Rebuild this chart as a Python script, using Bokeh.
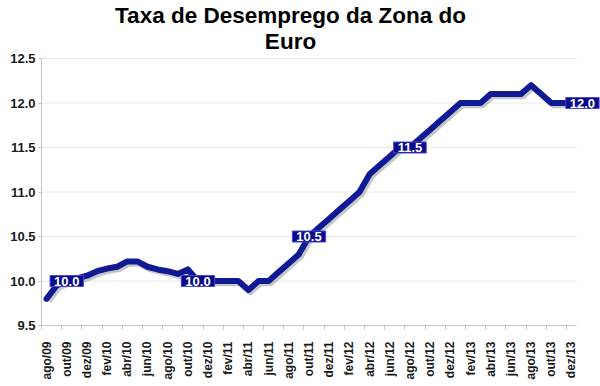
import math
from bokeh.plotting import figure
from bokeh.models import ColumnDataSource, Range1d, FixedTicker, Label
from bokeh.transform import dodge
from bokeh.embed import file_html
from bokeh.resources import INLINE

# ---- data -------------------------------------------------------------
months = [
    "ago/09", "set/09", "out/09", "nov/09", "dez/09",
    "jan/10", "fev/10", "mar/10", "abr/10", "mai/10", "jun/10",
    "jul/10", "ago/10", "set/10", "out/10", "nov/10", "dez/10",
    "jan/11", "fev/11", "mar/11", "abr/11", "mai/11", "jun/11",
    "jul/11", "ago/11", "set/11", "out/11", "nov/11", "dez/11",
    "jan/12", "fev/12", "mar/12", "abr/12", "mai/12", "jun/12",
    "jul/12", "ago/12", "set/12", "out/12", "nov/12", "dez/12",
    "jan/13", "fev/13", "mar/13", "abr/13", "mai/13", "jun/13",
    "jul/13", "ago/13", "set/13", "out/13", "nov/13", "dez/13",
]
rate = [
    9.80, 9.95, 10.0, 10.03, 10.06,
    10.11, 10.14, 10.16, 10.22, 10.22, 10.16,
    10.13, 10.11, 10.08, 10.13, 10.0, 10.0,
    10.0, 10.0, 10.0, 9.9, 10.0, 10.0,
    10.1, 10.2, 10.3, 10.5, 10.6, 10.7,
    10.8, 10.9, 11.0, 11.2, 11.3, 11.4,
    11.5, 11.5, 11.6, 11.7, 11.8, 11.9,
    12.0, 12.0, 12.0, 12.1, 12.1, 12.1,
    12.1, 12.2, 12.1, 12.0, 12.0, 12.0,
]
labeled_months = ["out/09", "nov/10", "out/11", "ago/12", "dez/13"]
y_ticks = [9.5, 10.0, 10.5, 11.0, 11.5, 12.0, 12.5]
title_lines = ["Taxa de Desemprego da Zona do", "Euro"]

# ---- layout constants (pixels) -----------------------------------------
FONT = "Liberation Sans"
LEFT = 41
FRAME_W, FRAME_H = 559, 325   # frame reaches the top so the title is drawn inside it
AXIS_PX = 535                 # pixel length of the category axis
PLOT_PX = 267                 # pixel height of the value axis (9.5 .. 12.5)

n = len(months)
xc = [i + 0.5 for i in range(n)]
src = ColumnDataSource(dict(x=xc, y=rate))

x_end = n * FRAME_W / AXIS_PX
y0, y1 = y_ticks[0], y_ticks[-1]
y_end = y0 + (y1 - y0) * FRAME_H / PLOT_PX

p = figure(frame_width=FRAME_W, frame_height=FRAME_H,
           x_range=Range1d(0, x_end), y_range=Range1d(y0, y_end),
           output_backend="svg", toolbar_location=None,
           min_border_left=LEFT, min_border_right=0,
           min_border_top=0, min_border_bottom=0)
p.title.visible = False
p.outline_line_color = None
p.background_fill_color = "white"
p.border_fill_color = "white"

# title, drawn inside the frame in screen units
for k, line in enumerate(title_lines):
    p.add_layout(Label(x=249, y=[310, 284.5][k], x_units="screen", y_units="screen",
                       text=line, text_align="center", text_baseline="alphabetic",
                       text_font=FONT, text_font_style="bold",
                       text_font_size="22.5px", text_color="black"))

# grid lines limited to the axis extent
p.xgrid.visible = False
p.ygrid.visible = False
p.segment(x0=0, x1=n, y0=y_ticks, y1=y_ticks, line_color="#e6e6e6", line_width=1)

# y axis
p.yaxis.bounds = (y0, y1)
p.yaxis.ticker = FixedTicker(ticks=y_ticks, minor_ticks=[])
p.yaxis.major_label_overrides = {t: f"{t:.1f}" for t in y_ticks}
p.yaxis.axis_line_color = "#c4c4c4"
p.yaxis.major_tick_line_color = "#c4c4c4"
p.yaxis.major_tick_out = 3
p.yaxis.major_tick_in = 0
p.yaxis.minor_tick_line_color = None
p.yaxis.major_label_standoff = 3
p.yaxis.major_label_text_font = FONT
p.yaxis.major_label_text_font_style = "bold"
p.yaxis.major_label_text_font_size = "13px"
p.yaxis.major_label_text_color = "#1a1a1a"

# x axis
lab_idx = list(range(0, n, 2))
p.xaxis.bounds = (0, n)
p.xaxis.ticker = FixedTicker(ticks=[xc[i] for i in lab_idx],
                             minor_ticks=[float(i) for i in lab_idx])
p.xaxis.major_label_overrides = {xc[i]: months[i] for i in lab_idx}
p.xaxis.major_label_orientation = math.pi / 2
p.xaxis.axis_line_color = "#c4c4c4"
p.xaxis.major_tick_line_color = None
p.xaxis.major_tick_out = 0
p.xaxis.major_tick_in = 0
p.xaxis.minor_tick_line_color = "#c4c4c4"
p.xaxis.minor_tick_out = 4
p.xaxis.minor_tick_in = 0
p.xaxis.major_label_standoff = 12
p.xaxis.major_label_text_font = FONT
p.xaxis.major_label_text_font_style = "bold"
p.xaxis.major_label_text_font_size = "12px"
p.xaxis.major_label_text_color = "#1a1a1a"

# line with soft shadow
p.line(x=dodge("x", 0.2), y=dodge("y", -0.025), source=src,
       line_color="#808080", line_alpha=0.45, line_width=6, line_join="round")
p.line("x", "y", source=src, line_color="#0f1a94", line_width=6,
       line_join="round", line_cap="round")

# data labels
for m in labeled_months:
    i = months.index(m)
    off = 11 if i == n - 1 else 0
    txt = f"{rate[i]:.1f}"
    common = dict(x=xc[i], y=rate[i], text=txt, text_align="center",
                  text_baseline="middle", text_font=FONT,
                  text_font_style="bold", text_font_size="13px",
                  padding=dict(left=4, right=4, top=1, bottom=1))
    p.add_layout(Label(x_offset=off + 2, y_offset=-2, text_alpha=0,
                       background_fill_color="#7a7a7a",
                       background_fill_alpha=0.45, **common))
    p.add_layout(Label(x_offset=off, text_color="white",
                       background_fill_color="#0a0a8a",
                       border_line_color="#4848d0", border_line_width=1,
                       **common))

open("out.html", "w").write(file_html(p, INLINE))
